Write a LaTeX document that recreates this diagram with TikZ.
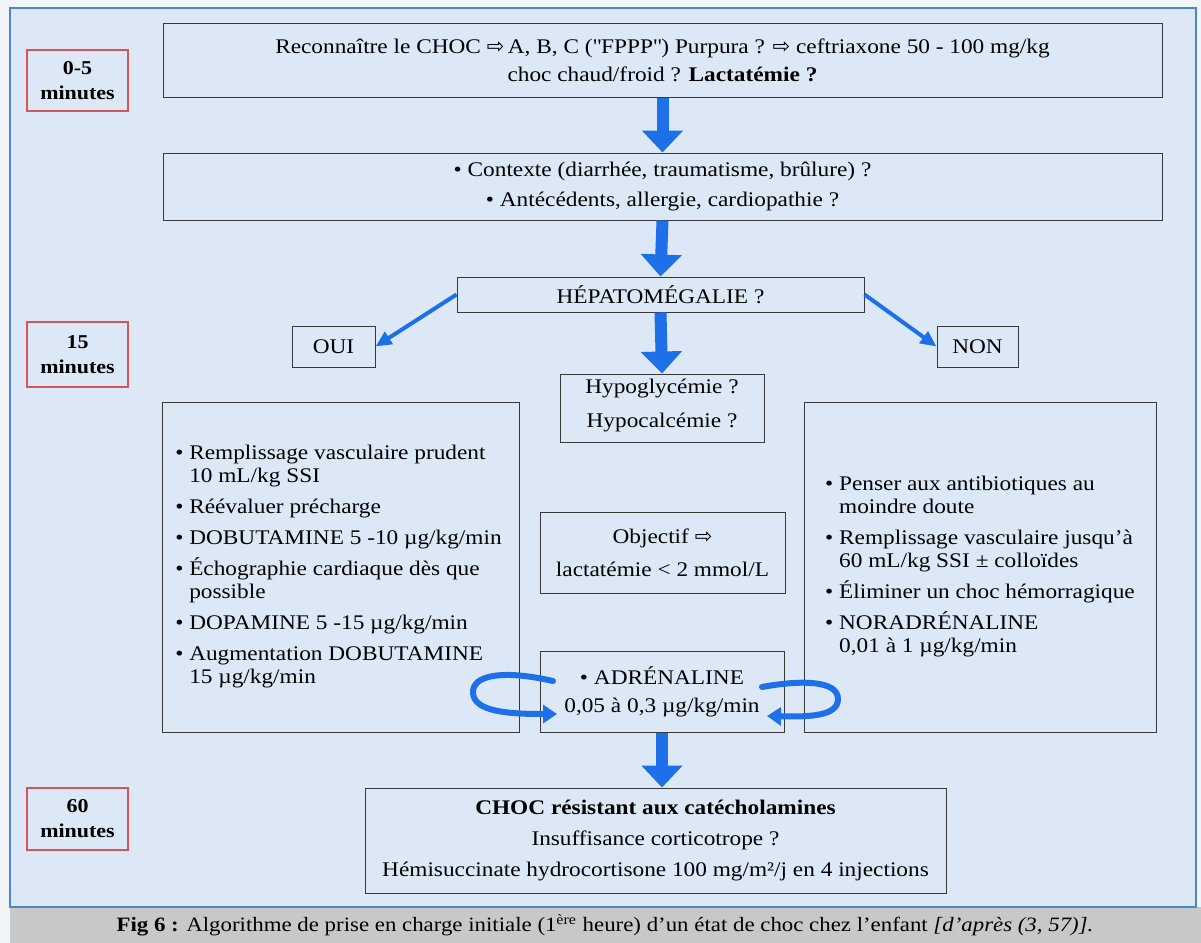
\documentclass[tikz,border=0pt]{standalone}
\usepackage{fontspec}
\setmainfont[FakeStretch=1.12]{Liberation Serif}
\newfontfamily\djv{DejaVu Sans}
\usetikzlibrary{arrows.meta,fit,calc}
\definecolor{bgblue}{RGB}{220,232,246}
\definecolor{frameblue}{RGB}{70,135,205}
\definecolor{arrowblue}{RGB}{30,112,232}
\definecolor{timered}{RGB}{215,85,90}
\definecolor{capgrey}{RGB}{200,200,200}
\definecolor{outerwhite}{RGB}{242,245,248}
\newcommand\rarr{{\djv\fontsize{10.5}{10.5}\selectfont ⇨}}
\newcommand\bul{\makebox[7pt][l]{•}}
\newcommand\ind{\hspace*{7pt}}
\newcommand\dq{\XeTeXglyph\XeTeXcharglyph"22\relax}
\begin{document}
\begin{tikzpicture}[x=0.5pt,y=-0.5pt,
  frame/.style={draw=black!78, line width=0.5pt, inner sep=0pt},
  txt/.style={inner sep=0pt, align=center, font=\fontsize{10.4}{14}\selectfont},
  listtxt/.style={inner sep=0pt, align=left, font=\fontsize{10.4}{11.5}\selectfont},
  timebox/.style={draw=timered, line width=0.8pt, inner sep=0pt},
  timetxt/.style={inner sep=0pt, align=center, font=\bfseries\fontsize{9.8}{12.5}\selectfont},
  bigarrow/.style={draw=arrowblue, line width=6pt, -{Triangle[width=20pt,length=11pt]}},
  thinarrow/.style={draw=arrowblue, line width=2pt, -{Triangle[width=7pt,length=8pt]}},
  looparrow/.style={draw=arrowblue, line width=3pt, line cap=round, -{Triangle[width=9pt,length=7pt]}},
]
% background and frame
\fill[outerwhite] (0,0) rectangle (1201,943);
\useasboundingbox (0,0) rectangle (1201,943);
\fill[capgrey] (10,907) rectangle (1201,943);
\filldraw[fill=bgblue, draw=frameblue, line width=1.2pt] (10,8) rectangle (1196,907);

% time boxes
\node[timebox, fit={(27,50)(128,111)}] (t1) {};
\node[timetxt] at (t1.center) {0-5\\minutes};
\node[timebox, fit={(27,322)(128,387)}] (t2) {};
\node[timetxt] at (t2.center) {15\\minutes};
\node[timebox, fit={(27,788)(128,850)}] (t3) {};
\node[timetxt] at (t3.center) {60\\minutes};

% main boxes
\node[frame, fit={(163,23)(1162,97)}] (b1) {};
\node[txt] at (b1.center) {Reconnaître le CHOC \rarr\,A, B, C (\dq FPPP\dq) Purpura ? \rarr{} ceftriaxone 50 - 100 mg/kg\\
choc chaud/froid ? \textbf{Lactatémie ?}};
\node[frame, fit={(163,153)(1162,220)}] (b2) {};
\node[txt] at (b2.center) {• Contexte (diarrhée, traumatisme, brûlure) ?\\[1pt]
• Antécédents, allergie, cardiopathie ?};
\node[frame, fit={(457,277)(864,312)}] (hep) {};
\node[txt] at (hep.center) {HÉPATOMÉGALIE ?};
\node[frame, fit={(292,326)(375,367)}] (oui) {};
\node[txt] at (oui.center) {OUI};
\node[frame, fit={(937,326)(1018,367)}] (non) {};
\node[txt] at (non.center) {NON};
\node[frame, fit={(560,374)(764,442)}] (hyp) {};
\node[txt, yshift=1pt] at (hyp.center) {Hypoglycémie ?\\[3pt]Hypocalcémie ?};
\node[frame, fit={(162,402)(519,732)}] (left) {};
\node[listtxt, xshift=-1pt] at (left.center) {\bul Remplissage vasculaire prudent\\
\ind 10 mL/kg SSI\\[4pt]
\bul Réévaluer précharge\\[4pt]
\bul DOBUTAMINE 5 -10 µg/kg/min\\[4pt]
\bul Échographie cardiaque dès que\\
\ind possible\\[4pt]
\bul DOPAMINE 5 -15 µg/kg/min\\[4pt]
\bul Augmentation DOBUTAMINE\\
\ind 15 µg/kg/min};
\node[frame, fit={(804,402)(1156,732)}] (right) {};
\node[listtxt] at (right.center) {\bul Penser aux antibiotiques au\\
\ind moindre doute\\[4pt]
\bul Remplissage vasculaire jusqu’à\\
\ind 60 mL/kg SSI ± colloïdes\\[4pt]
\bul Éliminer un choc hémorragique\\[4pt]
\bul NORADRÉNALINE\\
\ind 0,01 à 1 µg/kg/min};
\node[frame, fit={(540,512)(785,593)}] (obj) {};
\node[txt] at (obj.center) {Objectif \rarr\\[2.5pt]lactatémie < 2 mmol/L};
\node[frame, fit={(540,651)(784,732)}] (adr) {};
\node[txt] at (adr.center) {• ADRÉNALINE\\0,05 à 0,3 µg/kg/min};
\node[frame, fit={(365,788)(946,893)}] (choc) {};
\node[txt] at (choc.center) {\textbf{CHOC résistant aux catécholamines}\\[1.5pt]
Insuffisance corticotrope ?\\[1.5pt]
Hémisuccinate hydrocortisone 100 mg/m²/j en 4 injections};

% caption
\node[font=\fontsize{10.2}{12}\selectfont] (cap) at (605,925) {\textbf{Fig 6 :} Algorithme de prise en charge initiale (1\textsuperscript{ère} heure) d’un état de choc chez l’enfant \textit{[d’après (3, 57)].}};

% arrows
\draw[bigarrow] (b1.south) -- (b2.north);
\draw[bigarrow] (b2.south) -- (hep.north);
\draw[bigarrow] (hep.south) -- (hyp.north);
\draw[bigarrow] (adr.south) -- (adr.south |- choc.north);
\draw[thinarrow] (hep.west) -- (oui.east);
\draw[thinarrow] (hep.east) -- (non.west);

\coordinate (la) at (553,681);
\coordinate (lb) at (557,714);
\draw[looparrow] (la) .. controls (505,670) and (472,674) .. (473,693) .. controls (474,712) and (510,714) .. (lb);
\coordinate (ra) at (762,687);
\coordinate (rb) at (767,716);
\draw[looparrow] (ra) .. controls (800,680) and (838,680) .. (838,699) .. controls (838,716) and (810,717) .. (rb);
\end{tikzpicture}
\end{document}
